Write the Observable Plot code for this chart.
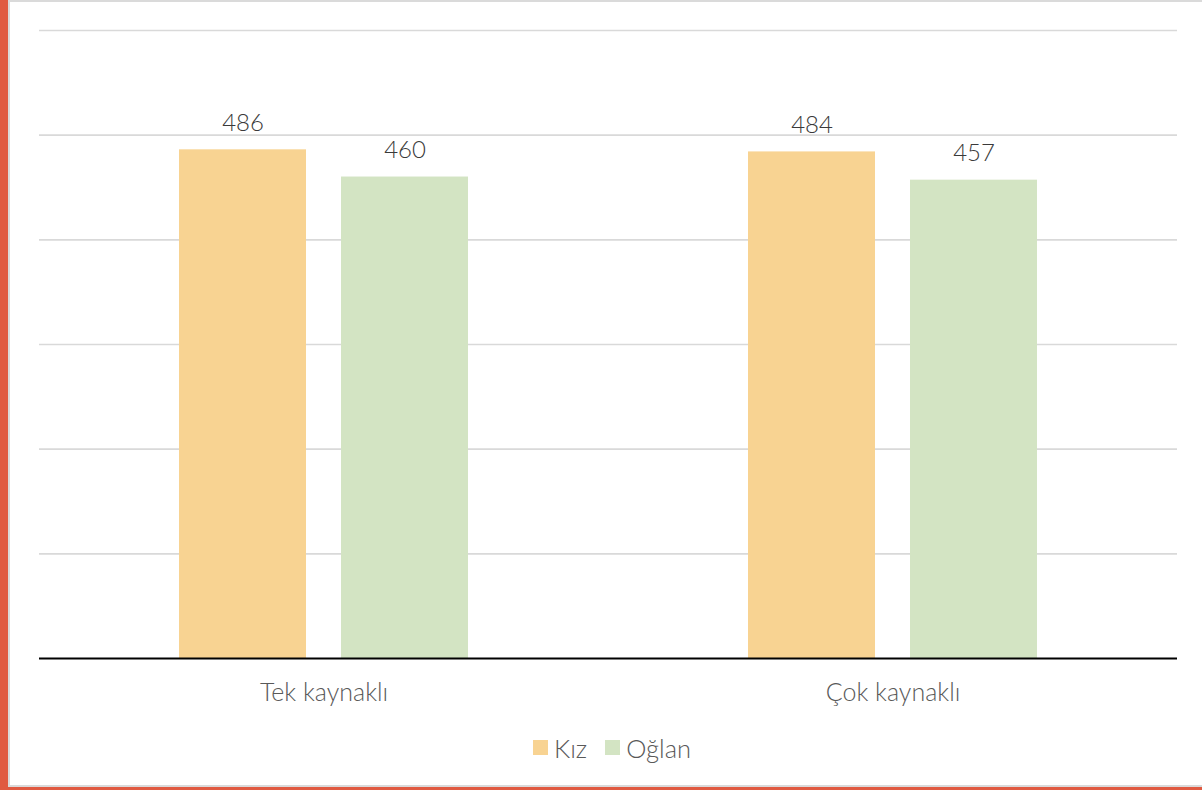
<!DOCTYPE html>
<html>
<head>
<meta charset="utf-8">
<script src="https://cdn.jsdelivr.net/npm/d3@7"></script>
<script src="https://cdn.jsdelivr.net/npm/@observablehq/plot@0.6"></script>
<style>
  html, body { margin: 0; padding: 0; background: #fff; }
  #frame { position: absolute; left: 0; top: 0; width: 1202px; height: 790px; box-sizing: border-box;
           border-left: 8px solid #E05A41; border-bottom: 3px solid #E05A41; }
  #inner { position: absolute; left: 0; top: 0; right: 0; bottom: 0; box-sizing: border-box;
           border-left: 2px solid #DADADA; border-top: 2px solid #DADADA; border-bottom: 2px solid #DADADA; }
  #chart { position: absolute; left: -10px; top: -2px; }
  #legend { position: absolute; left: 1px; top: 728px; width: 1202px; text-align: center;
            font-family: Lato, "Noto Sans", sans-serif; font-weight: 300; font-size: 25.5px; color: #595959; }
  #legend span.item { display: inline-flex; align-items: center; margin: 0 9px; }
  #legend span.sw { display: inline-block; width: 15px; height: 15px; margin-right: 6px; }
</style>
</head>
<body>
<div id="frame"><div id="inner">
  <div id="chart"></div>
  <div id="legend"></div>
</div></div>
<script>
const categories = ["Tek kaynaklı", "Çok kaynaklı"];
const series = ["Kız", "Oğlan"];
const values = {
  "Kız": [486, 484],
  "Oğlan": [460, 457]
};
const colors = ["#F8D392", "#D3E4C3"];
const gridTicks = [100, 200, 300, 400, 500, 600];

const data = [];
categories.forEach((c, i) => series.forEach(s => data.push({cat: c, ser: s, val: values[s][i]})));

const chart = Plot.plot({
  width: 1202,
  height: 720,
  marginLeft: 38,
  marginRight: 25,
  marginTop: 30,
  marginBottom: 62,
  style: {fontFamily: "Lato, 'Noto Sans', sans-serif", fontWeight: 300, fontSize: "25px", color: "#595959", background: "transparent"},
  facet: {data, x: "cat"},
  fx: {domain: categories, padding: 0, label: null, axis: "bottom", tickSize: 0, tickPadding: 25},
  x: {domain: series, axis: null, paddingInner: 0.2147, paddingOuter: 0.854},
  y: {domain: [0, 600], axis: null},
  color: {domain: series, range: colors},
  marks: [
    Plot.ruleY(gridTicks, {stroke: "#D9D9D9", strokeWidth: 1.6}),
    Plot.barY(data, {x: "ser", y: "val", fill: "ser"}),
    Plot.text(data, {x: "ser", y: "val", text: d => String(d.val), dy: -27, fill: "#3A3A3A", fontSize: 24, fontWeight: 300}),
    Plot.ruleY([0], {stroke: "#000", strokeWidth: 2})
  ]
});
document.getElementById("chart").appendChild(chart);

const legend = document.getElementById("legend");
series.forEach((s, i) => {
  const item = document.createElement("span");
  item.className = "item";
  const sw = document.createElement("span");
  sw.className = "sw";
  sw.style.background = colors[i];
  item.appendChild(sw);
  item.appendChild(document.createTextNode(s));
  legend.appendChild(item);
});
</script>
</body>
</html>
